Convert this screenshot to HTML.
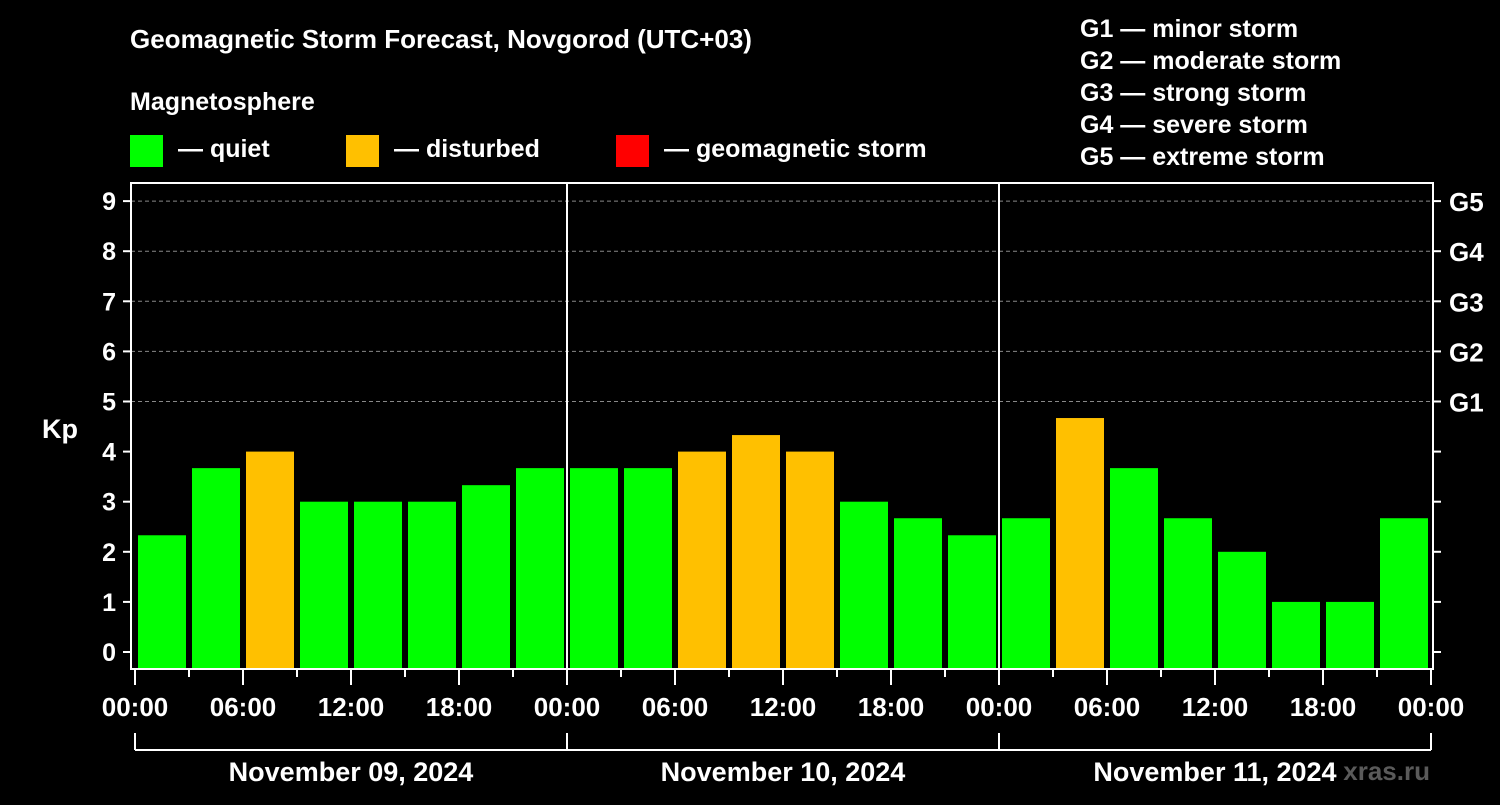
<!DOCTYPE html>
<html><head><meta charset="utf-8"><style>
body{margin:0;background:#000;width:1500px;height:800px;overflow:hidden}
svg text{font-family:"Liberation Sans",sans-serif;font-weight:bold;fill:#fff}
</style></head><body>
<svg id="c" width="1500" height="800">
<text x="130" y="48" font-size="26">Geomagnetic Storm Forecast, Novgorod (UTC+03)</text>
<text x="130" y="110" font-size="25">Magnetosphere</text>
<g><rect x="130" y="135" width="33" height="32" fill="#00ff00"/><text x="178" y="157" font-size="25">— quiet</text></g>
<g><rect x="346" y="135" width="33" height="32" fill="#ffc000"/><text x="394" y="157" font-size="25">— disturbed</text></g>
<g><rect x="616" y="135" width="33" height="32" fill="#ff0000"/><text x="664" y="157" font-size="25">— geomagnetic storm</text></g>
<g font-size="25">
<text x="1080" y="37">G1 — minor storm</text><text x="1080" y="69">G2 — moderate storm</text><text x="1080" y="101">G3 — strong storm</text><text x="1080" y="133">G4 — severe storm</text><text x="1080" y="165">G5 — extreme storm</text></g>
<text x="42" y="438" font-size="27">Kp</text>
<text x="1430" y="780" font-size="26" fill="#666" style="fill:#5a5a5a" text-anchor="end">xras.ru</text>
<g id="grid"></g><g id="bars"></g><g id="axes"></g>
</svg>
<script>
const days=["November 09, 2024","November 10, 2024","November 11, 2024"];
const kpValues=[2.33,3.67,4,3,3,3,3.33,3.67, 3.67,3.67,4,4.33,4,3,2.67,2.33, 2.67,4.67,3.67,2.67,2,1,1,2.67];
const yTicks=[0,1,2,3,4,5,6,7,8,9];
const gLabels=["G1","G2","G3","G4","G5"];
const xLabels=["00:00","06:00","12:00","18:00"];
const NS="http://www.w3.org/2000/svg";
const X0=135,SLOT=54,Y0=652,UNIT=50.1,BOTTOM=669,TOP=183,RIGHT=1433,LEFT=131;
const xs=i=>X0+i*SLOT, ys=v=>Y0-v*UNIT;
function mk(p,t,a){const e=document.createElementNS(NS,t);for(const k in a)e.setAttribute(k,a[k]);p.appendChild(e);return e;}
const grid=document.getElementById('grid'),bars=document.getElementById('bars'),axes=document.getElementById('axes');
yTicks.forEach(v=>{ if(v>=5){const l=mk(grid,'line',{x1:LEFT,x2:RIGHT,y1:ys(v),y2:ys(v),stroke:'#888','stroke-dasharray':'4 3','stroke-width':1});

}});
kpValues.forEach((v,i)=>{const r=mk(bars,'rect',{x:xs(i)+3,y:ys(v),width:48,height:BOTTOM-ys(v),fill:v>=5?'#ff0000':(v>=4?'#ffc000':'#00ff00')});

});
mk(axes,'rect',{x:LEFT,y:TOP,width:RIGHT-LEFT,height:BOTTOM-TOP,fill:'none',stroke:'#fff','stroke-width':2});
for(let d=1;d<days.length;d++)mk(axes,'line',{x1:xs(d*8),x2:xs(d*8),y1:TOP,y2:BOTTOM,stroke:'#fff','stroke-width':2});
yTicks.forEach(v=>{mk(axes,'line',{x1:LEFT-8,x2:LEFT,y1:ys(v),y2:ys(v),stroke:'#fff','stroke-width':2});
mk(axes,'line',{x1:RIGHT,x2:RIGHT+8,y1:ys(v),y2:ys(v),stroke:'#fff','stroke-width':2});
const t=mk(axes,'text',{x:116,y:ys(v)+9,'font-size':25,'text-anchor':'end'});t.textContent=v;

});
gLabels.forEach((g,i)=>{const t=mk(axes,'text',{x:1449,y:ys(5+i)+10,'font-size':26});t.textContent=g;

});
for(let i=0;i<=kpValues.length;i++){const major=i%2===0;mk(axes,'line',{x1:xs(i),x2:xs(i),y1:BOTTOM,y2:BOTTOM+(major?16:8),stroke:'#fff','stroke-width':2});
if(major){const lbl=xLabels[(i/2)%4];const t=mk(axes,'text',{x:xs(i),y:716,'font-size':26,'text-anchor':'middle'});t.textContent=lbl;

}}
mk(axes,'line',{x1:xs(0),x2:xs(kpValues.length),y1:750,y2:750,stroke:'#fff','stroke-width':2});
for(let d=0;d<=days.length;d++)mk(axes,'line',{x1:xs(d*8),x2:xs(d*8),y1:733,y2:750,stroke:'#fff','stroke-width':2});
days.forEach((d,i)=>{const t=mk(axes,'text',{x:xs(i*8+4),y:781,'font-size':27,'text-anchor':'middle'});t.textContent=d;

});
</script>
</body></html>
